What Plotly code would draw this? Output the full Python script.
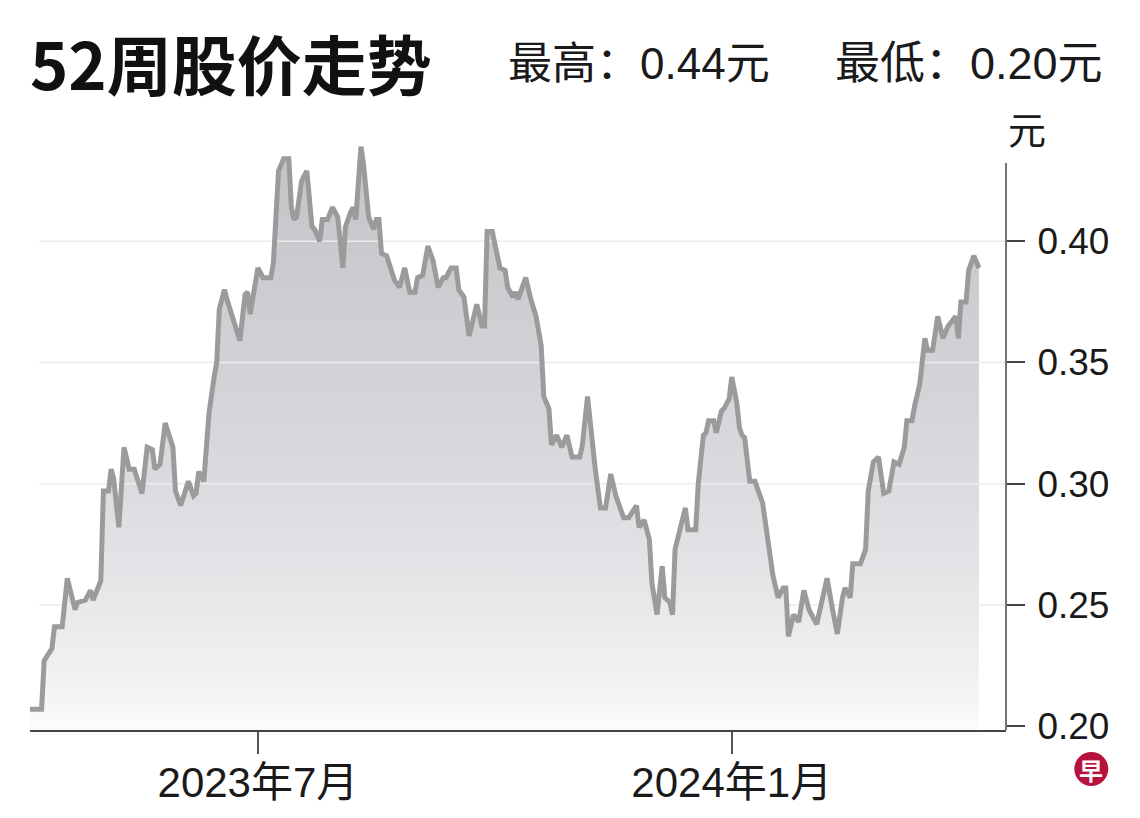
import plotly.graph_objects as go

# ---------------- data ----------------
dates = [
    "2023-04-03", "2023-04-08", "2023-04-09", "2023-04-12", "2023-04-13", "2023-04-16",
    "2023-04-18", "2023-04-21", "2023-04-22", "2023-04-25", "2023-04-27", "2023-04-28",
    "2023-05-01", "2023-05-02", "2023-05-04", "2023-05-05", "2023-05-06", "2023-05-08",
    "2023-05-10", "2023-05-12", "2023-05-14", "2023-05-17", "2023-05-19", "2023-05-21",
    "2023-05-22", "2023-05-24", "2023-05-26", "2023-05-29", "2023-05-30", "2023-06-01",
    "2023-06-04", "2023-06-06", "2023-06-07", "2023-06-08", "2023-06-10", "2023-06-11",
    "2023-06-12", "2023-06-14", "2023-06-15", "2023-06-16", "2023-06-18", "2023-06-19",
    "2023-06-24", "2023-06-26", "2023-06-27", "2023-06-28", "2023-06-30", "2023-07-01",
    "2023-07-03", "2023-07-06", "2023-07-07", "2023-07-08", "2023-07-09", "2023-07-11",
    "2023-07-13", "2023-07-14", "2023-07-15", "2023-07-16", "2023-07-18", "2023-07-20",
    "2023-07-22", "2023-07-23", "2023-07-25", "2023-07-26", "2023-07-28", "2023-07-30",
    "2023-08-01", "2023-08-03", "2023-08-04", "2023-08-06", "2023-08-07", "2023-08-08",
    "2023-08-10", "2023-08-11", "2023-08-13", "2023-08-15", "2023-08-16", "2023-08-17",
    "2023-08-18", "2023-08-20", "2023-08-23", "2023-08-25", "2023-08-27", "2023-08-29",
    "2023-08-31", "2023-09-01", "2023-09-03", "2023-09-05", "2023-09-07", "2023-09-09",
    "2023-09-11", "2023-09-12", "2023-09-14", "2023-09-16", "2023-09-17", "2023-09-19",
    "2023-09-21", "2023-09-24", "2023-09-26", "2023-09-27", "2023-09-28", "2023-09-30",
    "2023-10-01", "2023-10-03", "2023-10-05", "2023-10-06", "2023-10-08", "2023-10-09",
    "2023-10-10", "2023-10-11", "2023-10-13", "2023-10-15", "2023-10-17", "2023-10-19",
    "2023-10-20", "2023-10-22", "2023-10-23", "2023-10-25", "2023-10-27", "2023-10-29",
    "2023-10-31", "2023-11-03", "2023-11-04", "2023-11-06", "2023-11-07", "2023-11-09",
    "2023-11-11", "2023-11-13", "2023-11-15", "2023-11-17", "2023-11-20", "2023-11-22",
    "2023-11-25", "2023-11-26", "2023-11-28", "2023-11-30", "2023-12-01", "2023-12-03",
    "2023-12-05", "2023-12-06", "2023-12-08", "2023-12-09", "2023-12-10", "2023-12-12",
    "2023-12-14", "2023-12-15", "2023-12-18", "2023-12-19", "2023-12-21", "2023-12-22",
    "2023-12-23", "2023-12-25", "2023-12-26", "2023-12-28", "2023-12-29", "2023-12-31",
    "2024-01-01", "2024-01-03", "2024-01-04", "2024-01-05", "2024-01-06", "2024-01-08",
    "2024-01-10", "2024-01-13", "2024-01-15", "2024-01-17", "2024-01-19", "2024-01-21",
    "2024-01-22", "2024-01-23", "2024-01-25", "2024-01-27", "2024-01-29", "2024-01-31",
    "2024-02-03", "2024-02-07", "2024-02-09", "2024-02-11", "2024-02-13", "2024-02-14",
    "2024-02-16", "2024-02-17", "2024-02-20", "2024-02-22", "2024-02-23", "2024-02-25",
    "2024-02-27", "2024-02-29", "2024-03-02", "2024-03-04", "2024-03-06", "2024-03-08",
    "2024-03-09", "2024-03-11", "2024-03-12", "2024-03-14", "2024-03-16", "2024-03-17",
    "2024-03-19", "2024-03-21", "2024-03-23", "2024-03-25", "2024-03-28", "2024-03-29",
    "2024-03-30", "2024-04-01", "2024-04-02", "2024-04-04", "2024-04-06",
]

prices = [
    0.207, 0.207, 0.227, 0.232, 0.241, 0.241,
    0.261, 0.248, 0.251, 0.252, 0.256, 0.252,
    0.260, 0.297, 0.297, 0.306, 0.302, 0.282,
    0.315, 0.306, 0.306, 0.296, 0.315, 0.314,
    0.306, 0.308, 0.325, 0.315, 0.297, 0.291,
    0.301, 0.295, 0.296, 0.305, 0.301, 0.314,
    0.329, 0.344, 0.350, 0.372, 0.380, 0.376,
    0.359, 0.378, 0.379, 0.370, 0.384, 0.389,
    0.385, 0.385, 0.391, 0.409, 0.429, 0.434,
    0.434, 0.414, 0.409, 0.410, 0.425, 0.429,
    0.406, 0.405, 0.400, 0.409, 0.409, 0.414,
    0.410, 0.389, 0.406, 0.412, 0.414, 0.409,
    0.439, 0.432, 0.410, 0.405, 0.409, 0.409,
    0.395, 0.394, 0.384, 0.381, 0.389, 0.379,
    0.379, 0.385, 0.386, 0.398, 0.392, 0.381,
    0.385, 0.385, 0.389, 0.389, 0.380, 0.377,
    0.361, 0.374, 0.365, 0.365, 0.404, 0.404,
    0.399, 0.389, 0.388, 0.381, 0.377, 0.379,
    0.376, 0.379, 0.385, 0.376, 0.369, 0.357,
    0.336, 0.331, 0.316, 0.320, 0.315, 0.320,
    0.311, 0.311, 0.316, 0.336, 0.325, 0.306,
    0.290, 0.290, 0.304, 0.295, 0.286, 0.286,
    0.291, 0.282, 0.285, 0.277, 0.259, 0.246,
    0.266, 0.253, 0.251, 0.246, 0.273, 0.282,
    0.290, 0.281, 0.281, 0.300, 0.320, 0.321,
    0.326, 0.326, 0.321, 0.330, 0.331, 0.335,
    0.344, 0.333, 0.323, 0.320, 0.319, 0.301,
    0.301, 0.292, 0.277, 0.262, 0.253, 0.257,
    0.257, 0.237, 0.246, 0.243, 0.256, 0.248,
    0.242, 0.261, 0.249, 0.238, 0.253, 0.257,
    0.253, 0.267, 0.267, 0.273, 0.297, 0.309,
    0.311, 0.296, 0.297, 0.309, 0.308, 0.315,
    0.326, 0.326, 0.332, 0.341, 0.360, 0.355,
    0.355, 0.369, 0.360, 0.365, 0.369, 0.360,
    0.375, 0.375, 0.388, 0.394, 0.389,
]

y_ticks = [0.20, 0.25, 0.30, 0.35, 0.40]
grid_values = [0.25, 0.30, 0.35, 0.40]
x_tick_dates = ["2023-07-01", "2024-01-01"]
x_tick_text = ["2023年7月", "2024年1月"]

title_text = "52周股价走势"
high_text = "最高：0.44元"
low_text = "最低：0.20元"
unit_text = "元"
logo_text = "早"

x_range = ["2023-04-03 12:00", "2024-04-16 12:00"]
grid_start = "2023-04-07"
y_range = [0.1984, 0.4459]
y_axis_top = 0.4323

FONT = "Liberation Sans, Arial, Noto Sans CJK SC, sans-serif"
CJK = "Noto Sans CJK SC, Liberation Sans, sans-serif"

fig = go.Figure()

# gradient area
fig.add_trace(go.Scatter(
    x=dates, y=prices, mode="lines", line=dict(width=0),
    fill="tozeroy",
    fillgradient=dict(
        type="vertical", start=0.20, stop=0.44,
        colorscale=[[0.0, "#fbfbfc"], [0.04, "#f5f5f7"], [0.21, "#e8e8eb"],
                    [0.42, "#dbdbdf"], [0.625, "#d2d2d6"], [0.83, "#cacace"],
                    [1.0, "#c3c3c8"]],
    ),
    hoverinfo="skip", showlegend=False,
))

# grid lines (drawn above the fill, below the price line)
for g in grid_values:
    fig.add_trace(go.Scatter(
        x=[grid_start, x_range[1]], y=[g, g], mode="lines",
        line=dict(color="#ececee", width=1.5),
        hoverinfo="skip", showlegend=False,
    ))

# price line
fig.add_trace(go.Scatter(
    x=dates, y=prices, mode="lines",
    line=dict(color="#9b9b9b", width=5),
    showlegend=False,
))

fig.update_layout(
    width=1140, height=818,
    margin=dict(l=30, r=134.3, t=130, b=88),
    paper_bgcolor="white", plot_bgcolor="white",
    font=dict(family=FONT, color="#1a1a1a"),
    xaxis=dict(
        type="date", range=x_range,
        showgrid=False, zeroline=False,
        showline=True, linecolor="#444444", linewidth=1.5,
        ticks="outside", ticklen=22, tickwidth=1.5, tickcolor="#555555",
        tickvals=x_tick_dates, ticktext=x_tick_text,
        tickfont=dict(size=42, family=FONT, color="#1a1a1a"),
        ticklabelstandoff=-7,
    ),
    yaxis=dict(
        range=y_range, side="right",
        showgrid=False, zeroline=False, showline=False,
        ticks="outside", ticklen=18, tickwidth=1.5, tickcolor="#444444",
        tickvals=y_ticks, tickformat=".2f",
        tickfont=dict(size=37, family=FONT, color="#1a1a1a"),
        ticklabelstandoff=5,
    ),
    shapes=[
        dict(type="line", xref="paper", x0=1, x1=1, yref="y",
             y0=y_range[0], y1=y_axis_top,
             line=dict(color="#444444", width=1.5), layer="above"),
        dict(type="circle", xref="paper", yref="paper",
             x0=1.0700, x1=1.1048, y0=-0.0933, y1=-0.0367,
             fillcolor="#b8123c", line=dict(width=0), layer="above"),
    ],
    annotations=[
        dict(text="<b>" + title_text + "</b>", xref="paper", yref="paper",
             x=-0.002, y=1.113, xanchor="left", yanchor="middle", showarrow=False,
             font=dict(size=65, family=CJK, color="#111111")),
        dict(text=high_text, xref="paper", yref="paper",
             x=0.488, y=1.11, xanchor="left", yanchor="middle", showarrow=False,
             font=dict(size=44, family=FONT, color="#1a1a1a")),
        dict(text=low_text, xref="paper", yref="paper",
             x=0.823, y=1.11, xanchor="left", yanchor="middle", showarrow=False,
             font=dict(size=45, family=FONT, color="#1a1a1a")),
        dict(text=unit_text, xref="paper", yref="paper",
             x=1.0218, y=1.004, xanchor="center", yanchor="middle", showarrow=False,
             font=dict(size=38, family=CJK, color="#1a1a1a")),
        dict(text="<b>" + logo_text + "</b>", xref="paper", yref="paper",
             x=1.0874, y=-0.065, xanchor="center", yanchor="middle", showarrow=False,
             font=dict(size=24, family=CJK, color="white")),
    ],
)

fig.write_html(
    "out.html",
    config={"displayModeBar": False},
    post_script="document.body.style.margin='0';document.body.style.overflow='hidden';",
)
